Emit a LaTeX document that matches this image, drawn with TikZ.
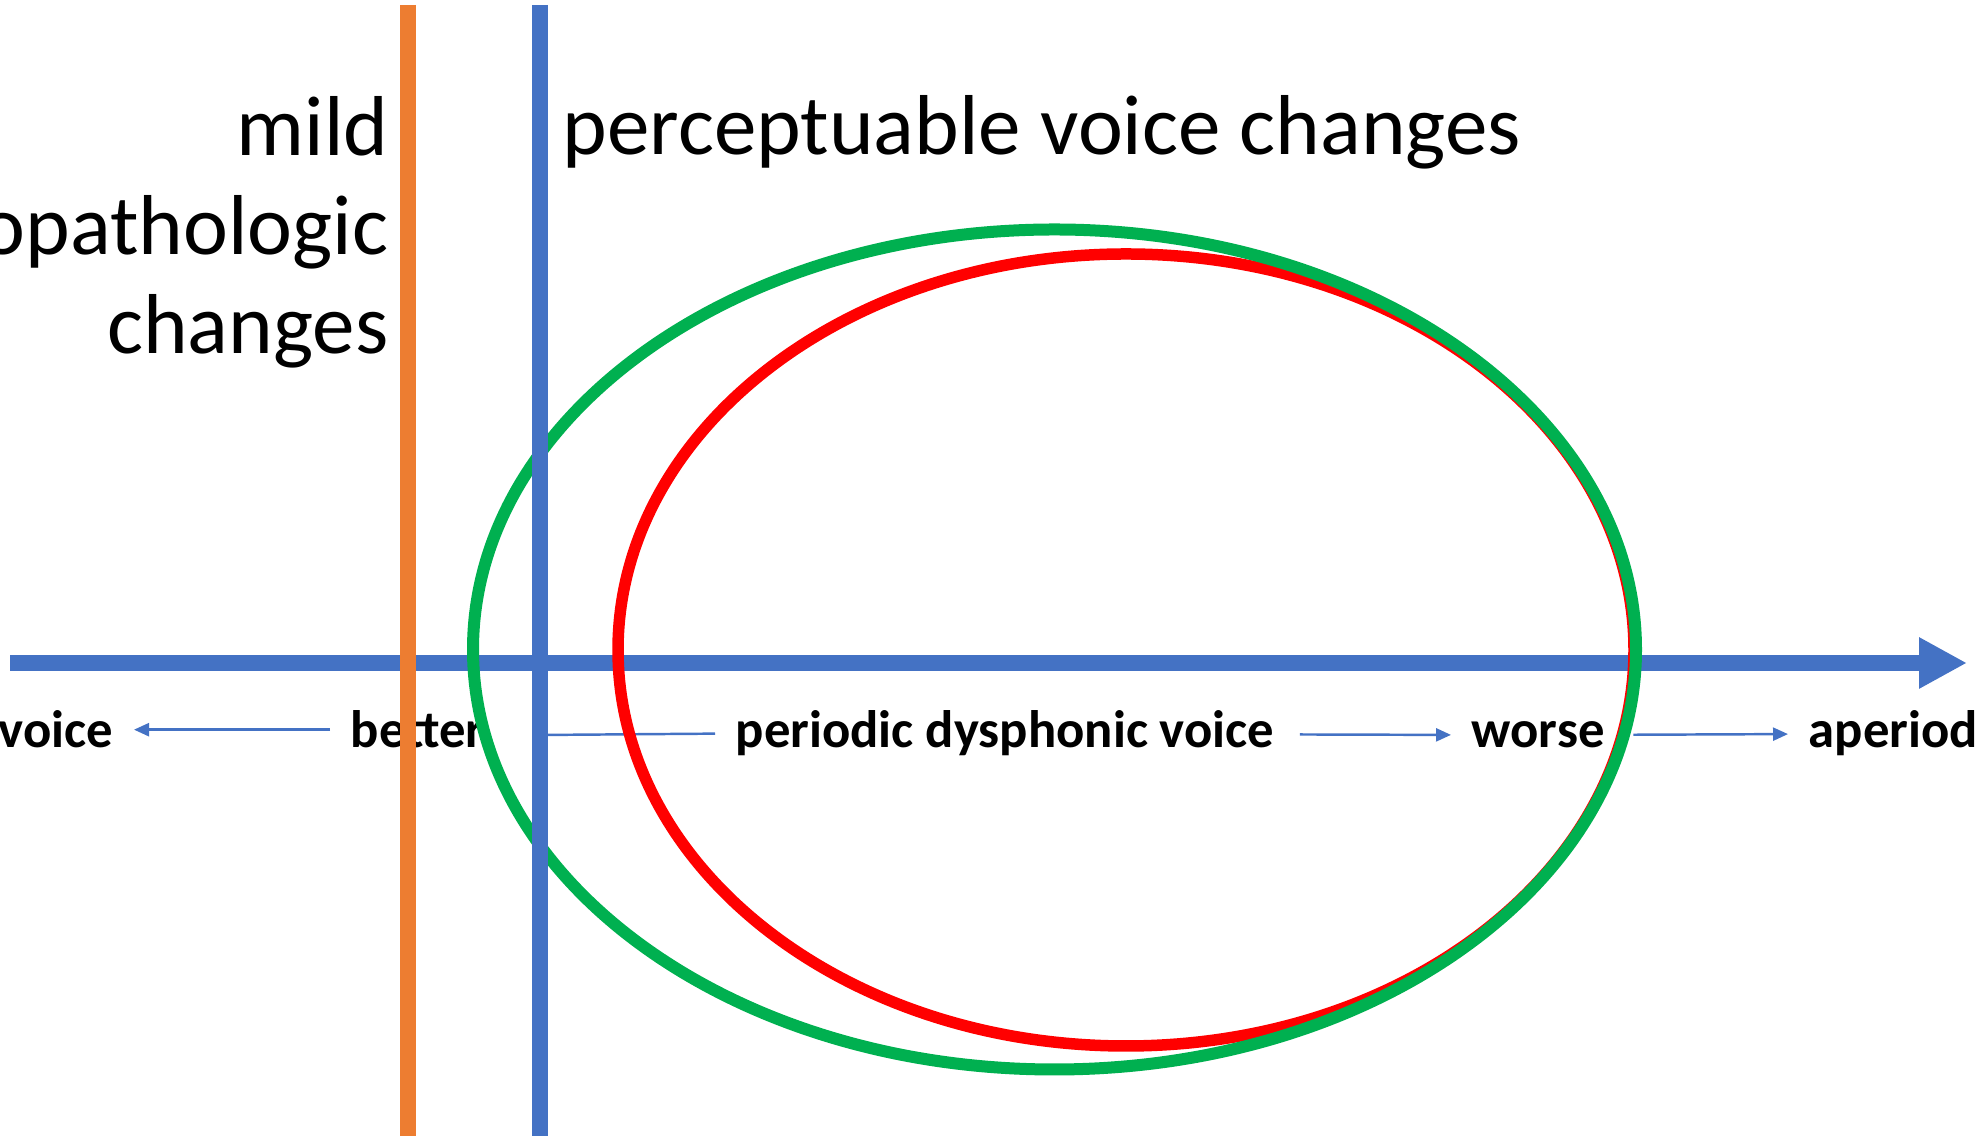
\documentclass[tikz,border=0pt]{standalone}
\usepackage{fontspec}
\setmainfont{Carlito}
\usepackage{tikz}
\usetikzlibrary{arrows.meta}
\definecolor{axisblue}{HTML}{4472C4}
\definecolor{lineorange}{HTML}{ED7D31}
\definecolor{ringgreen}{HTML}{00B050}
\tikzset{head/.style={font=\fontsize{24.2}{28.2}\selectfont, inner sep=0},
  lbl/.style={font=\fontsize{15}{18}\selectfont\bfseries, inner sep=0.2cm},
  lblarrow/.style={draw=axisblue, line width=0.7pt, -{Triangle[length=0.15cm,width=0.13cm]}}}

\begin{document}
\begin{tikzpicture}
\useasboundingbox (0,0) rectangle (19.8,11.38);
\clip (0,0) rectangle (19.8,11.38);
% headings
\node (mild) [head, anchor=north east, align=right] at (3.89,10.42) {mild\\opathologic\\changes};
\node (perc) [head, anchor=base west] at (5.62,9.83) {perceptuable voice changes};
% labels under the axis
\node (voice) [lbl, anchor=base east] at (1.34,3.90) {voice};
\node (better) [lbl, anchor=base west] at (3.30,3.90) {better};
\node (periodic) [lbl, anchor=base west] at (7.15,3.90) {periodic dysphonic voice};
\node (worse) [lbl, anchor=base west] at (14.51,3.90) {worse};
\node (aperiod) [lbl, anchor=base west] at (17.88,3.90) {aperiod};
\coordinate (cut) at (5.40,4.03);
\draw[lblarrow] (better) -- (voice);
\draw[axisblue, line width=0.7pt] (periodic.west) -- (cut);
\draw[lblarrow, shorten <=0.05cm] (periodic) -- (worse);
\draw[lblarrow, shorten <=0.08cm] (worse) -- (aperiod);
% axis
\coordinate (ax0) at (0.10,4.75);
\coordinate (ax1) at (19.67,4.75);
\draw[axisblue, line width=0.16cm, -{Triangle[length=0.48cm,width=0.48cm]}] (ax0) -- (ax1);
% rings
\draw[red, line width=0.115cm] (11.26,4.88) ellipse [x radius=5.08, y radius=3.96];
\draw[ringgreen, line width=0.12cm] (10.545,4.885) ellipse [x radius=5.815, y radius=4.20];
% borders
\coordinate (o1) at (4.08,11.33); \coordinate (o2) at (4.08,0.02);
\coordinate (b1) at (5.40,11.33); \coordinate (b2) at (5.40,0.02);
\draw[lineorange, line width=0.16cm] (o1) -- (o2);
\draw[axisblue, line width=0.16cm] (b1) -- (b2);
\end{tikzpicture}
\end{document}
